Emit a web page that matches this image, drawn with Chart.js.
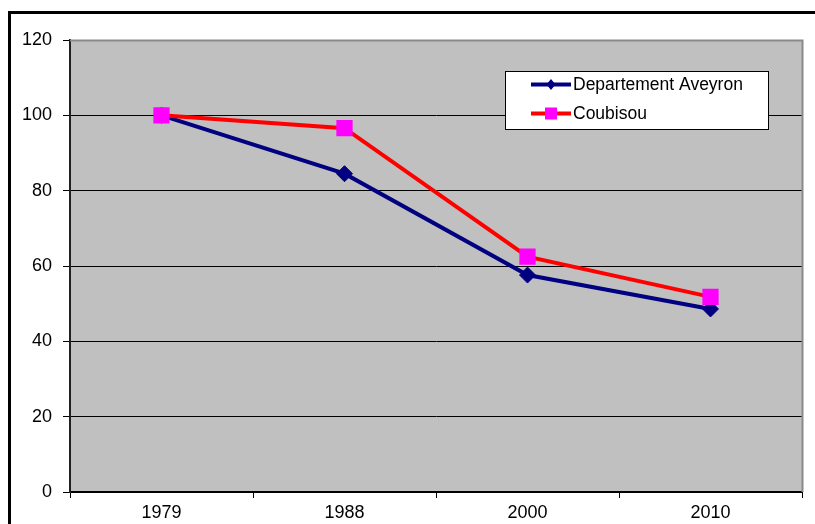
<!DOCTYPE html>
<html>
<head>
<meta charset="utf-8">
<script src="https://cdn.jsdelivr.net/npm/chart.js@4/dist/chart.umd.min.js"></script>
<style>
  html, body { margin: 0; padding: 0; background: #ffffff; }
  canvas { display: block; }
</style>
</head>
<body>
<canvas id="chart" width="815" height="524"></canvas>
<script>
// Years on the category axis
const years = ['1979', '1988', '2000', '2010'];
// Index (base 100 in 1979)
const aveyron = [100, 84.5, 57.6, 48.6];
const coubisou = [100, 96.6, 62.5, 51.8];
// Value axis ticks
const yTicks = [0, 20, 40, 60, 80, 100, 120];

const seriesNames = ['Departement Aveyron', 'Coubisou'];

// Grey plotting area with its shaded top/right edge, plus the outer frame
const frame = {
  id: 'frame',
  beforeDraw(chart) {
    const { ctx, chartArea: a } = chart;
    ctx.save();
    ctx.fillStyle = '#C0C0C0';
    ctx.fillRect(a.left, a.top, a.right - a.left, a.bottom - a.top);
    ctx.strokeStyle = '#000000';
    ctx.lineWidth = 3;
    ctx.beginPath();
    ctx.moveTo(9.5, 524);
    ctx.lineTo(9.5, 12.5);
    ctx.lineTo(815, 12.5);
    ctx.stroke();
    ctx.restore();
  },
  beforeDatasetsDraw(chart) {
    const { ctx, chartArea: a } = chart;
    ctx.save();
    ctx.strokeStyle = '#8a8a8a';
    ctx.lineWidth = 2;
    ctx.beginPath();
    ctx.moveTo(a.left, a.top + 0.5);
    ctx.lineTo(a.right + 0.5, a.top + 0.5);
    ctx.lineTo(a.right + 0.5, a.bottom);
    ctx.stroke();
    ctx.restore();
  }
};

// Boxed legend inside the plot, upper right
const boxLegend = {
  id: 'boxLegend',
  afterDraw(chart) {
    const { ctx } = chart;
    const bx = 505.5, by = 71.5, bw = 263, bh = 58;
    ctx.save();
    ctx.fillStyle = '#ffffff';
    ctx.fillRect(bx, by, bw, bh);
    ctx.strokeStyle = '#000000';
    ctx.lineWidth = 1;
    ctx.strokeRect(bx, by, bw, bh);
    const rows = [84.5, 113.5];
    chart.data.datasets.forEach((ds, i) => {
      const y = rows[i];
      ctx.strokeStyle = ds.borderColor;
      ctx.lineWidth = 4;
      ctx.beginPath();
      ctx.moveTo(531, y);
      ctx.lineTo(571, y);
      ctx.stroke();
      ctx.fillStyle = ds.pointBackgroundColor;
      const cx = 551;
      ctx.beginPath();
      if (ds.pointStyle === 'rectRot') {
        ctx.moveTo(cx, y - 5.5);
        ctx.lineTo(cx + 4.5, y);
        ctx.lineTo(cx, y + 5.5);
        ctx.lineTo(cx - 4.5, y);
        ctx.closePath();
      } else {
        ctx.rect(cx - 6, y - 6, 12, 12);
      }
      ctx.fill();
      ctx.fillStyle = '#000000';
      ctx.font = '17.5px "Liberation Sans", Arial, sans-serif';
      ctx.textBaseline = 'middle';
      ctx.textAlign = 'left';
      ctx.fillText(ds.label, 573, y + 1);
    });
    ctx.restore();
  }
};

new Chart(document.getElementById('chart'), {
  type: 'line',
  data: {
    labels: years,
    datasets: [
      {
        label: seriesNames[0],
        data: aveyron,
        borderColor: '#000080',
        backgroundColor: '#000080',
        borderWidth: 4,
        pointStyle: 'rectRot',
        pointRadius: 8,
        pointBackgroundColor: '#000080',
        pointBorderColor: '#000080',
        pointBorderWidth: 1,
        tension: 0,
        order: 1
      },
      {
        label: seriesNames[1],
        data: coubisou,
        borderColor: '#FF0000',
        backgroundColor: '#FF00FF',
        borderWidth: 4,
        pointStyle: 'rect',
        pointRadius: 11.5,
        pointBackgroundColor: '#FF00FF',
        pointBorderColor: '#FF00FF',
        pointBorderWidth: 0,
        tension: 0,
        order: 0
      }
    ]
  },
  options: {
    responsive: false,
    animation: false,
    devicePixelRatio: 1,
    layout: { padding: { top: 40, right: 13, left: 0, bottom: 0 } },
    plugins: {
      legend: { display: false },
      tooltip: { enabled: false }
    },
    scales: {
      x: {
        type: 'category',
        offset: true,
        grid: {
          offset: true,
          drawOnChartArea: false,
          drawTicks: true,
          tickLength: 6,
          tickColor: '#000000',
          lineWidth: 1
        },
        border: { display: true, color: '#000000', width: 2 },
        ticks: {
          color: '#000000',
          padding: 4,
          font: { family: '"Liberation Sans", Arial, sans-serif', size: 18 }
        },
        afterFit(scale) { scale.height = 32; }
      },
      y: {
        min: yTicks[0],
        max: yTicks[yTicks.length - 1],
        afterBuildTicks(scale) { scale.ticks = yTicks.map(v => ({ value: v })); },
        grid: {
          color: ctx => (ctx.tick && ctx.tick.value === 120 ? '#8a8a8a' : '#000000'),
          tickColor: '#000000',
          lineWidth: 1,
          tickLength: 7,
          drawTicks: true
        },
        border: { display: true, color: '#202020', width: 2 },
        ticks: {
          color: '#000000',
          padding: 11,
          font: { family: '"Liberation Sans", Arial, sans-serif', size: 18 }
        },
        afterFit(scale) { scale.width = 70; }
      }
    }
  },
  plugins: [frame, boxLegend]
});
</script>
</body>
</html>
